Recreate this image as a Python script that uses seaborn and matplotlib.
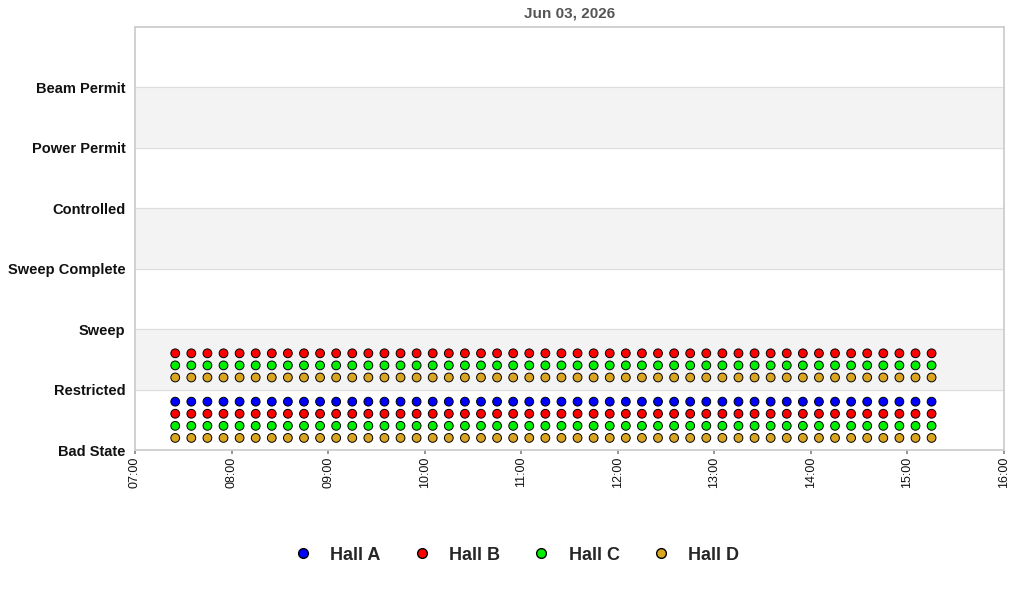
import matplotlib
matplotlib.use("Agg")
import matplotlib.pyplot as plt
import matplotlib.dates as mdates
import seaborn as sns
import pandas as pd

states = ["Bad State", "Restricted", "Sweep", "Sweep Complete", "Controlled", "Power Permit", "Beam Permit"]
halls = ["Hall A", "Hall B", "Hall C", "Hall D"]
colors = {"Hall A": "#0000ff", "Hall B": "#ff0000", "Hall C": "#00ee00", "Hall D": "#daa520"}
# state index per hall (values drawn inside band with per-hall offset)
hall_states = {"Hall A": [0], "Hall B": [0, 1], "Hall C": [0, 1], "Hall D": [0, 1]}
offsets = {"Hall A": 0.8, "Hall B": 0.6, "Hall C": 0.4, "Hall D": 0.2}
times = pd.date_range("2026-06-03 07:25", "2026-06-03 15:15", freq="10min")

rows = []
for h in halls:
    for s in hall_states[h]:
        for t in times:
            rows.append({"time": t, "y": s + offsets[h], "hall": h})
df = pd.DataFrame(rows)

sns.set_theme(style="white")
plt.rcParams['font.family'] = ['Liberation Sans', 'DejaVu Sans']
fig = plt.figure(figsize=(10.24, 6.0), dpi=100)
ax = fig.add_axes([135/1024, 1-450/600, (1004-135)/1024, (450-27)/600])

for i in range(len(states)):
    if i % 2 == 1:
        ax.axhspan(i, i + 1, color="#f3f3f3", zorder=0)
    ax.axhline(i, color="#dddddd", lw=0.8, zorder=0)

sns.scatterplot(data=df, x="time", y="y", hue="hall", hue_order=halls, palette=colors,
                s=40, edgecolor="black", linewidth=0.7, ax=ax, zorder=3, legend=False)

ax.set_ylim(0, 7)
ax.set_yticks(range(len(states)))
ax.set_yticklabels(states, fontsize=10.5, fontweight="bold", color="#111111")
ax.tick_params(axis="y", pad=7, length=0)
ax.set_xlim(pd.Timestamp("2026-06-03 07:00"), pd.Timestamp("2026-06-03 16:00"))
ax.xaxis.set_major_locator(mdates.HourLocator())
ax.xaxis.set_major_formatter(mdates.DateFormatter("%H:%M"))
plt.setp(ax.get_xticklabels(), rotation=90, fontsize=9, color="#111111")
ax.tick_params(axis="x", length=3, color="#888888", bottom=True, pad=2)
ax.set_xlabel("")
ax.set_ylabel("")
for sp in ax.spines.values():
    sp.set_color("#cccccc")
ax.set_title("Jun 03, 2026", fontsize=11, fontweight="bold", color="#555555", pad=7)

handles = [plt.Line2D([], [], marker="o", ls="", markerfacecolor=colors[h], markeredgecolor="black",
                      markersize=7, label=h) for h in halls]
fig.legend(handles=handles, loc="center", bbox_to_anchor=(0.5, 1-555/600), ncol=4, frameon=False,
           prop={"weight": "bold", "size": 13}, handletextpad=0.5, columnspacing=1.3)

fig.savefig("out.png", dpi=100)
